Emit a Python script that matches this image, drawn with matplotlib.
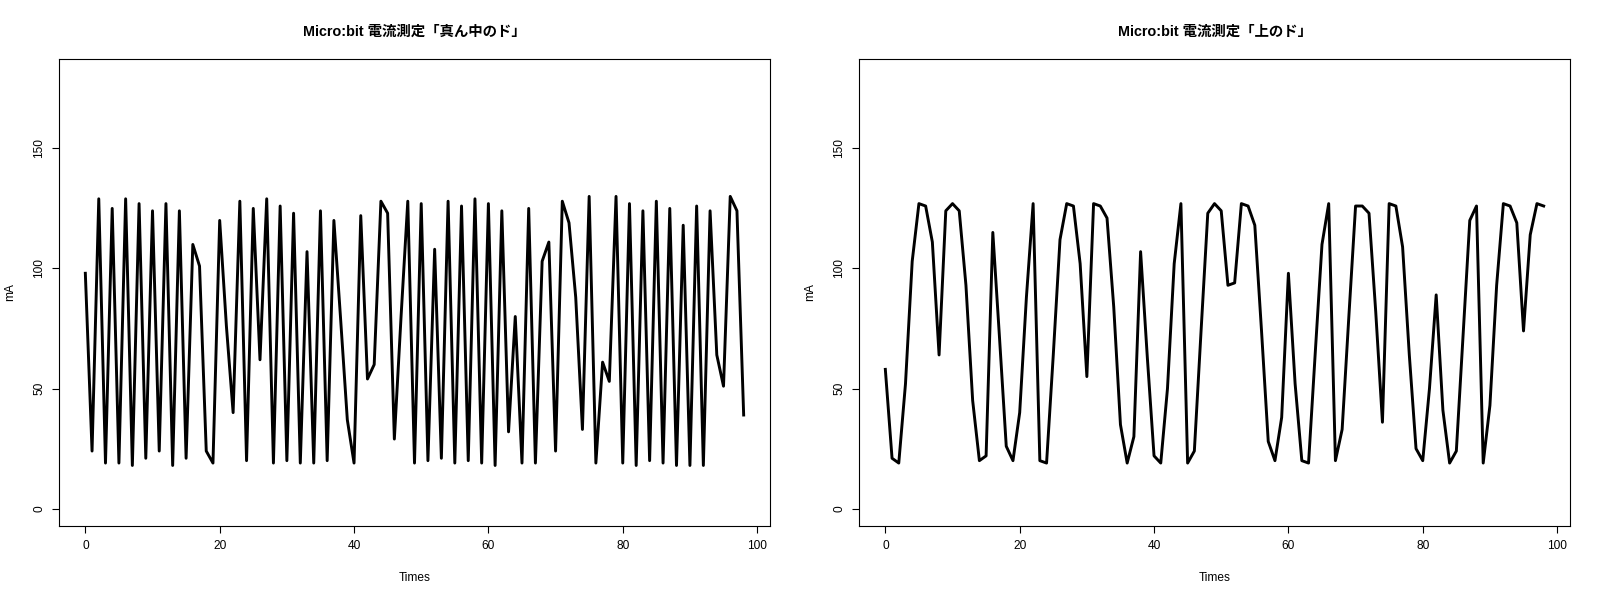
import matplotlib.pyplot as plt
import numpy as np

plt.rcParams['font.family'] = ['Liberation Sans', 'Noto Sans CJK JP', 'DejaVu Sans']

# current readings, middle C ("真ん中のド"), 99 samples
mid_do = [98, 24, 129, 19, 125, 19, 129, 18, 127, 21,
          124, 24, 127, 18, 124, 21, 110, 101, 24, 19,
          120, 76, 40, 128, 20, 125, 62, 129, 19, 126,
          20, 123, 19, 107, 19, 124, 20, 120, 79, 37,
          19, 122, 54, 60, 128, 123, 29, 80, 128, 19,
          127, 20, 108, 21, 128, 19, 126, 20, 129, 19,
          127, 18, 124, 32, 80, 19, 125, 19, 103, 111,
          24, 128, 119, 88, 33, 130, 19, 61, 53, 130,
          19, 127, 18, 124, 20, 128, 19, 125, 18, 118,
          18, 126, 18, 124, 64, 51, 130, 124, 39]

# current readings, upper C ("上のド")
high_do = [58, 21, 19, 52, 103, 127, 126, 111, 64, 124,
           127, 124, 93, 45, 20, 22, 115, 71, 26, 20,
           40, 88, 127, 20, 19, 64, 112, 127, 126, 102,
           55, 127, 126, 121, 84, 35, 19, 30, 107, 63,
           22, 19, 50, 102, 127, 19, 24, 74, 123, 127,
           124, 93, 94, 127, 126, 118, 74, 28, 20, 38,
           98, 52, 20, 19, 65, 110, 127, 20, 33, 80,
           126, 126, 123, 82, 36, 127, 126, 109, 64, 25,
           20, 50, 89, 41, 19, 24, 72, 120, 126, 19,
           43, 93, 127, 126, 119, 74, 114, 127, 126]

titles = ["Micro:bit 電流測定「真ん中のド」", "Micro:bit 電流測定「上のド」"]

fig = plt.figure(figsize=(16, 6), dpi=100)
boxes = [[59/1600, 74/600, 711/1600, 467/600],
         [859/1600, 74/600, 711/1600, 467/600]]

for box, series, title in zip(boxes, [mid_do, high_do], titles):
    ax = fig.add_axes(box)
    t = np.arange(len(series))
    ax.plot(t, series, color="black", linewidth=2.1)
    ax.set_xlim(-3.92, 101.92)
    ax.set_ylim(-7.2, 187.2)
    ax.set_xticks([0, 20, 40, 60, 80, 100])
    ax.set_yticks([0, 50, 100, 150])
    ax.tick_params(direction="out", length=5, width=0.8, labelsize=8.6, pad=5)
    for lab in ax.get_yticklabels():
        lab.set_rotation(90)
        lab.set_va("center")
    for s in ax.spines.values():
        s.set_linewidth(0.8)
    ax.set_xlabel("Times", fontsize=8.6, labelpad=14.5)
    ax.set_ylabel("mA", fontsize=8.6, labelpad=12)
    ax.set_title(title, fontsize=10.4, fontweight="bold", pad=17)

fig.savefig("out.png", dpi=100)
